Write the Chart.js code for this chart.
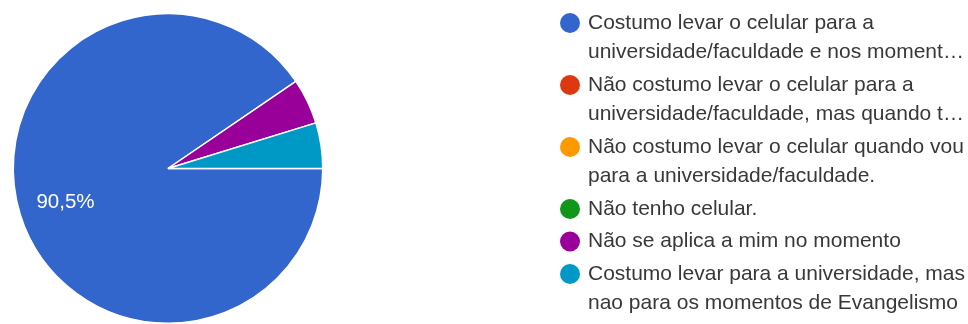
<!DOCTYPE html>
<html>
<head>
<meta charset="utf-8">
<script src="https://cdn.jsdelivr.net/npm/chart.js@4"></script>
<style>
    body { margin: 0; background: #fff; }
    #wrap { width: 968px; height: 324px; position: relative; }
</style>
</head>
<body>
<div id="wrap"><canvas id="pieChart"></canvas></div>
<script>
// answers (legend text, already wrapped as in the form summary)
var labels = [
    ["Costumo levar o celular para a", "universidade/faculdade e nos moment\u2026"],
    ["N\u00e3o costumo levar o celular para a", "universidade/faculdade, mas quando t\u2026"],
    ["N\u00e3o costumo levar o celular quando vou", "para a universidade/faculdade."],
    ["N\u00e3o tenho celular."],
    ["N\u00e3o se aplica a mim no momento"],
    ["Costumo levar para a universidade, mas", "nao para os momentos de Evangelismo"]
];
var values = [19, 0, 0, 0, 1, 1];
var colors = ["#3366cc", "#dc3912", "#ff9900", "#109618", "#990099", "#0099c6"];

var FONT = "'Liberation Sans', Arial, sans-serif";

// percentage labels inside the slices
var sliceLabels = {
    id: 'sliceLabels',
    afterDatasetsDraw: function(chart) {
        var ctx = chart.ctx;
        var data = chart.data.datasets[0].data;
        var total = data.reduce(function(a, b) { return a + b; }, 0);
        chart.getDatasetMeta(0).data.forEach(function(arc, i) {
            var pct = data[i] / total * 100;
            if (pct < 10) return;
            var p = arc.getProps(['x', 'y', 'startAngle', 'endAngle', 'outerRadius'], true);
            var mid = (p.startAngle + p.endAngle) / 2;
            var r = p.outerRadius * 0.7;
            ctx.save();
            ctx.fillStyle = '#fff';
            ctx.font = '20.5px ' + FONT;
            ctx.textAlign = 'center';
            ctx.textBaseline = 'middle';
            ctx.fillText(pct.toFixed(1).replace('.', ',') + '%', p.x + Math.cos(mid) * r + 1, p.y + Math.sin(mid) * r + 2);
            ctx.restore();
        });
    }
};

// legend on the right, google forms style
var sideLegend = {
    id: 'sideLegend',
    afterDraw: function(chart) {
        var ctx = chart.ctx;
        var ds = chart.data.datasets[0];
        var y = 23;
        ctx.save();
        ctx.font = '21px ' + FONT;
        ctx.textBaseline = 'middle';
        chart.data.labels.forEach(function(lines, i) {
            ctx.fillStyle = ds.backgroundColor[i];
            ctx.beginPath();
            ctx.arc(570, y, 10, 0, Math.PI * 2);
            ctx.fill();
            ctx.fillStyle = '#383838';
            lines.forEach(function(t, j) {
                ctx.fillText(t, 588, y + j * 29.5);
            });
            y += lines.length * 29.5 + 3;
        });
        ctx.restore();
    }
};

var ctx = document.getElementById('pieChart');
var chart = new Chart(ctx, {
    type: 'pie',
    data: {
        labels: labels,
        datasets: [{
            data: values,
            backgroundColor: colors,
            borderColor: '#fff',
            borderWidth: 1.5
        }]
    },
    options: {
        responsive: true,
        maintainAspectRatio: false,
        animation: false,
        rotation: 90,
        layout: { padding: { left: 12, right: 644, top: 13, bottom: 0 } },
        plugins: {
            legend: { display: false },
            tooltip: { enabled: false }
        }
    },
    plugins: [sliceLabels, sideLegend]
});
</script>
</body>
</html>
